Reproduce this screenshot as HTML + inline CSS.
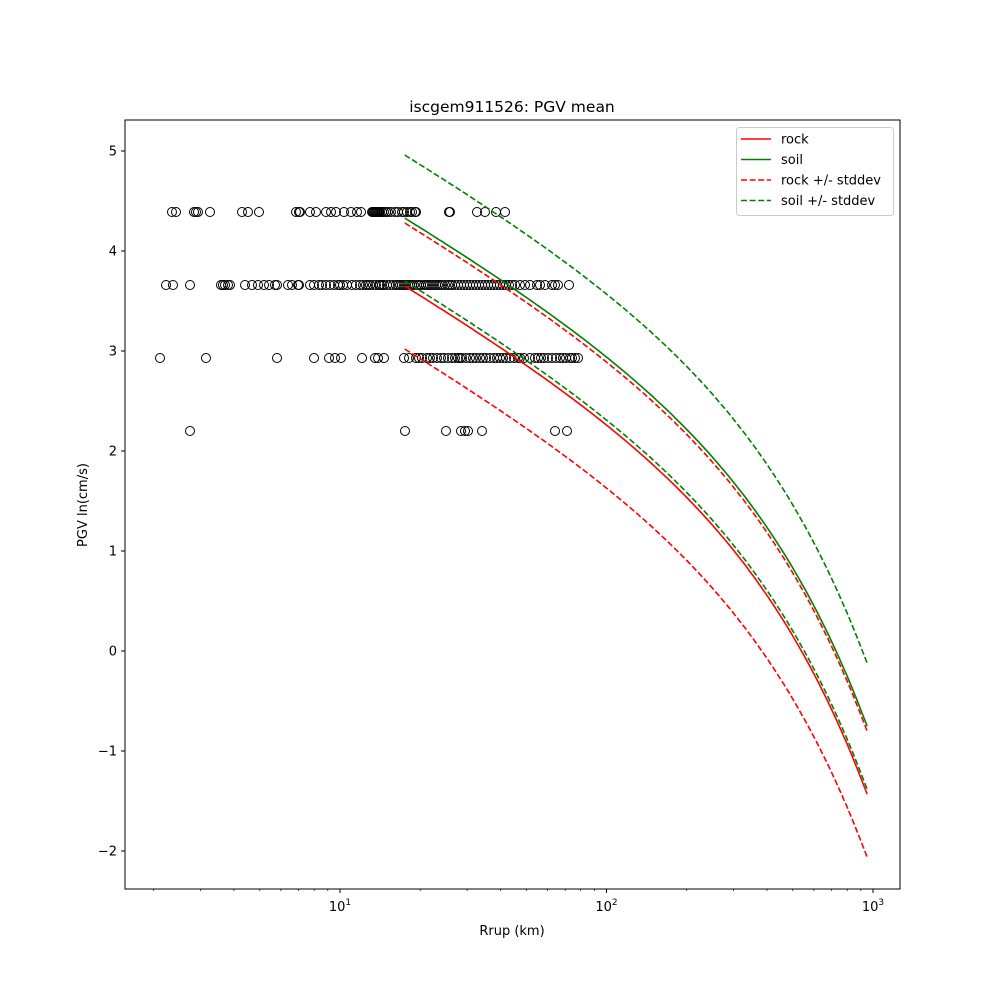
<!DOCTYPE html>
<html><head><meta charset="utf-8"><style>body{margin:0;background:#fff}svg{display:block;font-family:"DejaVu Sans","Liberation Sans",sans-serif}</style></head>
<body><svg id="s" width="1000" height="1000" xmlns="http://www.w3.org/2000/svg"></svg>
<script>
const s=document.getElementById('s');let h='';
const X=r=>340+266.5*Math.log10(r/10), Y=v=>651-100*v;
const L=125,R=900,T=120,B=889;
h+=`<text x="512" y="112" font-size="15.5" text-anchor="middle">iscgem911526: PGV mean</text>`;
for(let v=-2;v<=5;v++){const y=Y(v);h+=`<line x1="${L}" x2="${L-4}" y1="${y}" y2="${y}" stroke="#000"/><text x="${L-8}" y="${y+4.5}" font-size="13" text-anchor="end">${v<0?'\u2212'+(-v):v}</text>`;}
for(let d=0;d<=3;d++)for(let m=1;m<10;m++){const r=m*Math.pow(10,d);const x=X(r);if(x<L||x>R)continue;
h+=`<line x1="${x}" x2="${x}" y1="${B}" y2="${B+(m==1?4:2)}" stroke="#000" stroke-width="${m==1?1:0.7}"/>`;
if(m==1)h+=`<text x="${x}" y="${B+22}" font-size="13" text-anchor="middle">10<tspan font-size="9" dy="-6">${d}</tspan></text>`;}
h+=`<text x="512" y="935" font-size="13" text-anchor="middle">Rrup (km)</text>`;
h+=`<text transform="translate(87,505) rotate(-90)" font-size="13" text-anchor="middle">PGV ln(cm/s)</text>`;
const rows=[[212,[172,176,194,196,198,210,242,248,259,296,299,300,310,316,326,331,336,344,351,357,361,372,373,374,375,376,377,378,379,380,382,384,386,388,391,395,398,402,404,407,410,412,415,416,449,450,477,485,496,505]],
[285,[166,173,190,221,223,225,228,230,245,252,258,264,269,275,277,288,292,298,299,310,314,319,322,326,330,334,338,340,343,347,352,356,360,363,366,368,370,373,376,379,380,382,384,387,390,393,396,398,400,402,404,406,408,410,412,414,417,419,421,424,426,428,430,432,434,436,438,440,442,445,448,450,452,455,458,461,464,467,470,473,476,479,482,485,488,491,494,497,500,503,506,509,512,515,520,525,530,537,540,545,552,555,558,569]],
[358,[160,206,277,314,329,335,341,362,375,378,384,404,409,416,419,422,427,430,433,437,441,444,448,452,455,458,460,462,466,470,473,476,480,483,486,490,494,497,500,503,506,510,514,518,520,524,530,535,538,541,544,548,552,556,560,563,566,570,572,575,578]],
[431,[190,405,446,461,465,468,482,555,567]]];
for(const [y,xs] of rows)for(const x of xs)h+=`<circle cx="${x}" cy="${y}" r="4.5" fill="none" stroke="#000" stroke-width="1"/>`;
const f=r=>5.632-0.677*Math.log(r)-0.002549*r;
function path(off,col,dash){let d='';for(let i=0;i<=200;i++){const r=17.5*Math.pow(950/17.5,i/200);d+=(i?'L':'M')+X(r).toFixed(1)+','+Y(f(r)+off).toFixed(1);}
return `<path d="${d}" fill="none" stroke="${col}" stroke-width="1.6" ${dash?'stroke-dasharray="6,2.6"':''}/>`;}
h+=path(0,'red')+path(0.68,'green')+path(0.63,'red',1)+path(-0.63,'red',1)+path(1.31,'green',1)+path(0.05,'green',1);
h+=`<rect x="${L}" y="${T}" width="${R-L}" height="${B-T}" fill="none" stroke="#000"/>`;
h+=`<rect x="736.5" y="127.5" width="157" height="88" rx="3" fill="#fff" stroke="#ccc"/>`;
const lg=[['rock','red',0],['soil','green',0],['rock +/- stddev','red',1],['soil +/- stddev','green',1]];
lg.forEach((e,i)=>{const y=139+20.5*i;h+=`<line x1="741" x2="771" y1="${y}" y2="${y}" stroke="${e[1]}" stroke-width="1.6" ${e[2]?'stroke-dasharray="6,2.6"':''}/><text x="781" y="${y+4.5}" font-size="13">${e[0]}</text>`;});
s.innerHTML=h;
</script></body></html>
